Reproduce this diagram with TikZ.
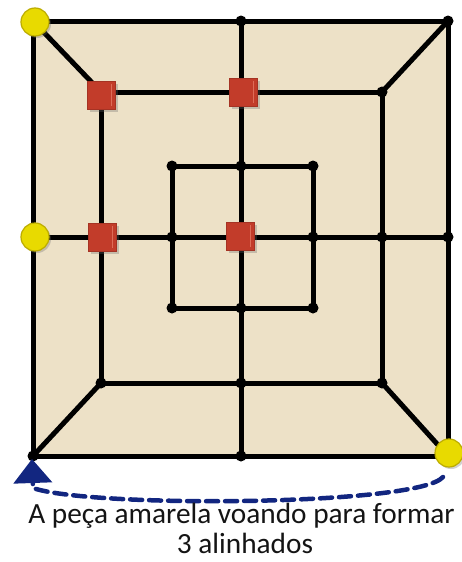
\documentclass[tikz,border=0pt]{standalone}
\usepackage{fontspec}
\setmainfont{Carlito}
\usetikzlibrary{arrows.meta,shadows}
\definecolor{boardfill}{RGB}{237,225,199}
\definecolor{pieceyellow}{RGB}{232,218,0}
\definecolor{yellowrim}{RGB}{188,172,0}
\definecolor{piecered}{RGB}{194,60,42}
\definecolor{redlight}{RGB}{222,108,88}
\definecolor{navyarrow}{RGB}{18,38,128}
\definecolor{textcol}{RGB}{20,20,20}
\begin{document}
\begin{tikzpicture}[x=1pt,y=-1pt,
  boardline/.style={line width=5pt, line cap=round, line join=round, black},
  dot/.style={circle, fill=black, inner sep=0pt, minimum size=11pt},
  yellowpiece/.style={circle, inner sep=0pt, minimum size=28pt, fill=pieceyellow, draw=yellowrim, line width=1.2pt,
    drop shadow={shadow xshift=2pt, shadow yshift=-2pt, opacity=0.3, fill=black!60}},
  redpiece/.style={rectangle, inner sep=0pt, minimum size=28pt, fill=piecered, draw=piecered!85!black, line width=0.6pt,
    drop shadow={shadow xshift=3pt, shadow yshift=-3pt, opacity=0.3, fill=black!60},
    path picture={\fill[redlight] ([xshift=-4.5pt,yshift=-3pt]path picture bounding box.north east) rectangle ([xshift=-3pt,yshift=3pt]path picture bounding box.south east);}},
  arrowline/.style={line width=4.5pt, navyarrow, dash pattern=on 12pt off 7pt, line cap=round,
    -{Triangle[width=38pt,length=24pt]}},
  caption/.style={font=\fontsize{29.3}{30}\selectfont, text=textcol, anchor=base, inner sep=0pt}
]
\useasboundingbox (0,0) rectangle (462,562);
% outer square
\coordinate (oTL) at (33,21);  \coordinate (oT) at (241,21);  \coordinate (oTR) at (448,21);
\coordinate (oR) at (448,237); \coordinate (oBR) at (448,456); \coordinate (oB) at (241,456);
\coordinate (oBL) at (33,456); \coordinate (oL) at (33,237);
% middle square
\coordinate (mTL) at (101,92);  \coordinate (mT) at (241,92);  \coordinate (mTR) at (382,92);
\coordinate (mR) at (382,237);  \coordinate (mBR) at (382,383); \coordinate (mB) at (241,383);
\coordinate (mBL) at (101,383); \coordinate (mL) at (101,237);
% inner square
\coordinate (iTL) at (172,166); \coordinate (iT) at (241,166); \coordinate (iTR) at (313,166);
\coordinate (iR) at (313,237);  \coordinate (iBR) at (313,308); \coordinate (iB) at (241,308);
\coordinate (iBL) at (172,308); \coordinate (iL) at (172,237);
\coordinate (ctr) at (241,237);

% board
\fill[boardfill] (oTL) rectangle (oBR);
\draw[boardline] (oTL) -- (oTR) -- (oBR) -- (oBL) -- cycle;
\draw[boardline] (mTL) -- (mTR) -- (mBR) -- (mBL) -- cycle;
\draw[boardline] (iTL) -- (iTR) -- (iBR) -- (iBL) -- cycle;
\draw[boardline] (oT) -- (oB);
\draw[boardline] (oL) -- (oR);
\draw[boardline] (oTL) -- (mTL);
\draw[boardline] (oTR) -- (mTR);
\draw[boardline] (oBR) -- (mBR);
\draw[boardline] (oBL) -- (mBL);

% dots
\foreach \p in {oT,oTR,oR,oB,oBL,mTR,mR,mBR,mB,mBL,iTL,iT,iTR,iR,iBR,iB,iBL,iL}
  \node[dot] (d\p) at (\p) {};

% red pieces
\node[redpiece] (r1) at (101,95) {};
\node[redpiece] (r2) at (243,92) {};
\node[redpiece] (r3) at (102,237) {};
\node[redpiece] (r4) at (240,236) {};

% yellow pieces
\node[yellowpiece] (y1) at (35,22) {};
\node[yellowpiece] (y2) at (35,237) {};
\node[yellowpiece] (y3) at (449,453) {};

% flying arrow
\coordinate (aStart) at (443,477);
\coordinate (aBend) at (33,488);
\coordinate (aTip) at (32,459);
\draw[arrowline] (aStart) .. controls (418,506) and (90,508) .. (aBend) -- (aTip);

% caption
\node[caption] (t1) at (241.5,523) {A peça amarela voando para formar};
\node[caption] (t2) at (245,553) {3 alinhados};
\end{tikzpicture}
\end{document}
